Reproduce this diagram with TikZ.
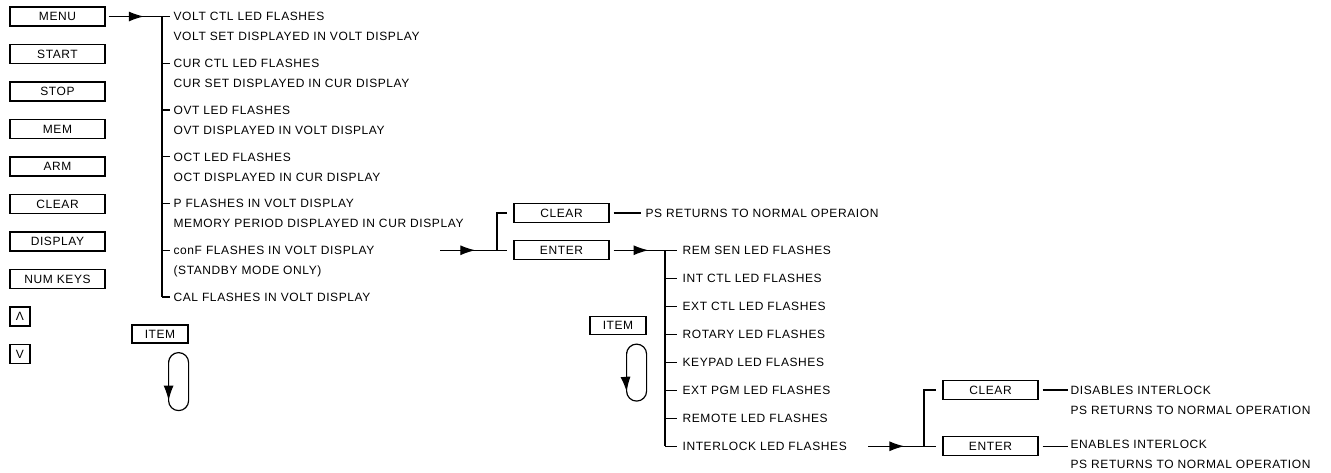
\documentclass[tikz,border=0pt]{standalone}
\usepackage{fontspec}
\setmainfont[LetterSpace=5]{Liberation Sans}
\usepackage{tikz}
\usetikzlibrary{arrows.meta,decorations.markings}

\tikzset{
  keybox/.style={draw,minimum width=95pt,minimum height=19pt,inner sep=0pt},
  smallkey/.style={keybox,minimum width=20pt},
  itembox/.style={keybox,minimum width=56pt,minimum height=18pt},
  note/.style={anchor=base west,inner sep=0pt,align=left},
  midarrow/.style={postaction={decorate},decoration={markings,
    mark=at position #1 with {\arrow{Latex[length=15pt,width=10pt]}}}},
  looppath/.style={rounded corners=10pt,midarrow=0.14},
}

\begin{document}
\begin{tikzpicture}[x=1pt,y=-1pt,line width=1.2pt,font=\fontsize{12}{20}\selectfont]
\useasboundingbox (0,0) rectangle (1331,472);

\foreach \lbl [count=\i from 0] in {MENU,START,STOP,MEM,ARM,CLEAR,DISPLAY,NUM KEYS}
  \node[keybox] (k\i) at (57.5,16.5+37.5*\i) {\lbl};
\node[smallkey] (kup) at (20,316.5) {Λ};
\node[smallkey] (kdown) at (20,354) {V};

\coordinate (ja) at (162,16.5);
\coordinate (jalast) at (162,297);
\draw[midarrow=0.66] ([xshift=3pt]k0.east) -- (ja);
\draw (ja) -- (jalast);
\foreach \r in {16.5,63.25,110,156.75,203.5,250.25,297}
  \draw (162,\r) -- (170,\r);
\node[note] (m1) at (173,40.8) {VOLT CTL LED FLASHES\\VOLT SET DISPLAYED IN VOLT DISPLAY};
\node[note] (m2) at (173,87.55) {CUR CTL LED FLASHES\\CUR SET DISPLAYED IN CUR DISPLAY};
\node[note] (m3) at (173,134.3) {OVT LED FLASHES\\OVT DISPLAYED IN VOLT DISPLAY};
\node[note] (m4) at (173,181.05) {OCT LED FLASHES\\OCT DISPLAYED IN CUR DISPLAY};
\node[note] (m5) at (173,227.8) {P FLASHES IN VOLT DISPLAY\\MEMORY PERIOD DISPLAYED IN CUR DISPLAY};
\node[note] (m6) at (173,274.55) {conF FLASHES IN VOLT DISPLAY\\(STANDBY MODE ONLY)};
\node[note] (m7) at (173,301.3) {CAL FLASHES IN VOLT DISPLAY};

\node[itembox] (item1) at (160,334) {ITEM};
\draw[looppath] ([xshift=-20pt,yshift=-27pt]item1.south east)
  -- ([xshift=-20pt,yshift=-67pt]item1.south east)
  -- ([yshift=-67pt]item1.south east)
  -- ([yshift=-9pt]item1.south east)
  -- ([xshift=-20pt,yshift=-9pt]item1.south east) -- cycle;

\coordinate (cs) at (440,250.25);
\coordinate (jb) at (497,250.25);
\node[keybox] (clr) at (561.5,213) {CLEAR};
\node[keybox] (ent) at (561.5,250.25) {ENTER};
\draw[midarrow=0.62] (cs) -- (jb);
\draw (jb) |- ([xshift=-6pt]clr.west);
\draw (jb) -- ([xshift=-6pt]ent.west);
\draw ([xshift=4pt]clr.east) -- ++(27,0);
\node[note] (clrtxt) at (645,217.3) {PS RETURNS TO NORMAL OPERAION};

\coordinate (jc) at (665,250.25);
\coordinate (jclast) at (665,446.25);
\draw[midarrow=0.68] ([xshift=4pt]ent.east) -- (jc);
\draw (jc) -- (jclast);
\foreach \r in {250.25,278.25,306.25,334.25,362.25,390.25,418.25,446.25}
  \draw (665,\r) -- (677,\r);
\node[note] (e1) at (682,254.55) {REM SEN LED FLASHES};
\node[note] (e2) at (682,282.55) {INT CTL LED FLASHES};
\node[note] (e3) at (682,310.55) {EXT CTL LED FLASHES};
\node[note] (e4) at (682,338.55) {ROTARY LED FLASHES};
\node[note] (e5) at (682,366.55) {KEYPAD LED FLASHES};
\node[note] (e6) at (682,394.55) {EXT PGM LED FLASHES};
\node[note] (e7) at (682,422.55) {REMOTE LED FLASHES};
\node[note] (e8) at (682,450.55) {INTERLOCK LED FLASHES};

\node[itembox] (item2) at (618,325.5) {ITEM};
\draw[looppath] ([xshift=-20pt,yshift=-27pt]item2.south east)
  -- ([xshift=-20pt,yshift=-66pt]item2.south east)
  -- ([yshift=-66pt]item2.south east)
  -- ([yshift=-9pt]item2.south east)
  -- ([xshift=-20pt,yshift=-9pt]item2.south east) -- cycle;

\coordinate (is) at (868,446.25);
\coordinate (jd) at (924,446.25);
\node[keybox] (clr3) at (990.5,390) {CLEAR};
\node[keybox] (ent3) at (990.5,446.25) {ENTER};
\draw[midarrow=0.65] (is) -- (jd);
\draw (jd) |- ([xshift=-6pt]clr3.west);
\draw (jd) -- ([xshift=-6pt]ent3.west);
\draw ([xshift=4pt]clr3.east) -- ++(25,0);
\draw ([xshift=4pt]ent3.east) -- ++(25,0);
\node[note] (dis) at (1070,414.3) {DISABLES INTERLOCK\\PS RETURNS TO NORMAL OPERATION};
\node[note] (ena) at (1070,468.3) {ENABLES INTERLOCK\\PS RETURNS TO NORMAL OPERATION};
\end{tikzpicture}
\end{document}
